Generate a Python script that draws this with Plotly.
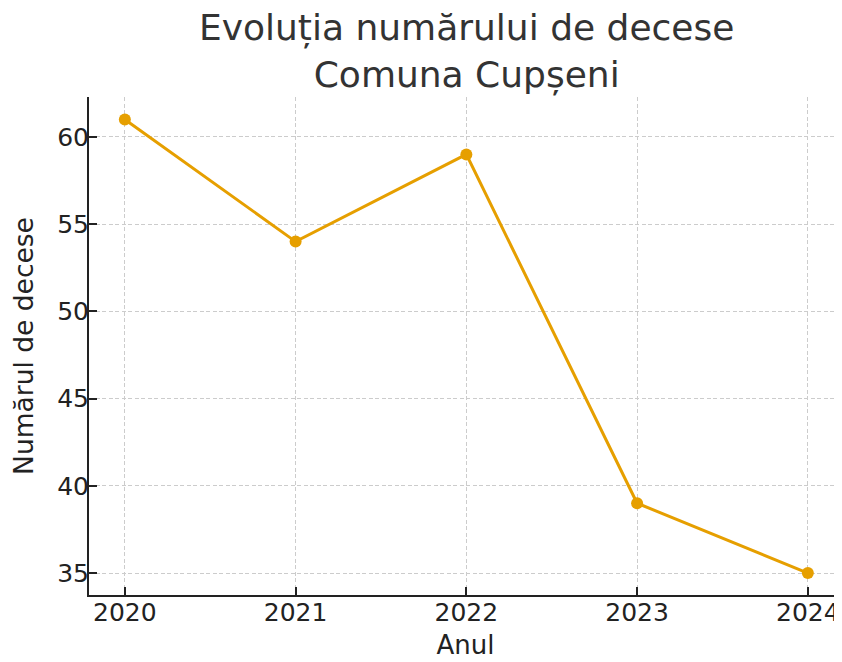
import plotly.graph_objects as go

years = [2020, 2021, 2022, 2023, 2024]
deaths = [61, 54, 59, 39, 35]
y_ticks = [35, 40, 45, 50, 55, 60]

FONT = "DejaVu Sans"
GRID_DASH = "4px,2.5px"
fig = go.Figure(go.Scatter(
    x=years, y=deaths, mode="lines+markers",
    line=dict(color="#E69F00", width=3),
    marker=dict(color="#E69F00", size=12),
    cliponaxis=False,
))
# page body has an 8px margin, so the figure is sized/margined to compensate
fig.update_layout(
    width=834, height=654,
    margin=dict(l=81, r=0, t=89, b=67),
    paper_bgcolor="white", plot_bgcolor="white",
    showlegend=False,
    font=dict(family=FONT, color="#222222", size=25),
    title=dict(text="Evoluția numărului de decese<br>Comuna Cupșeni",
               x=0.550, xanchor="center", y=0.9505, yanchor="middle",
               font=dict(family=FONT, size=36, color="#333333")),
    xaxis=dict(range=[2019.79, 2024.2], tickvals=years, ticktext=[str(y) for y in years],
               showgrid=True, gridcolor="#cccccc", griddash=GRID_DASH, gridwidth=1,
               showline=True, linecolor="#222222", linewidth=2,
               ticks="inside", ticklen=8, tickwidth=1.5, tickcolor="#222222",
               zeroline=False, automargin=False, ticklabelstandoff=-6,
               title=dict(text="Anul", font=dict(size=26), standoff=10),
               tickfont=dict(size=25)),
    yaxis=dict(range=[33.74, 62.29], tickvals=y_ticks,
               showgrid=True, gridcolor="#cccccc", griddash=GRID_DASH, gridwidth=1,
               showline=True, linecolor="#222222", linewidth=2,
               ticks="inside", ticklen=8, tickwidth=1.5, tickcolor="#222222",
               zeroline=False, automargin=False, ticklabelstandoff=-7,
               title=dict(text="Numărul de decese", font=dict(size=26.5), standoff=17),
               tickfont=dict(size=25)),
)
fig.write_html("out.html")
